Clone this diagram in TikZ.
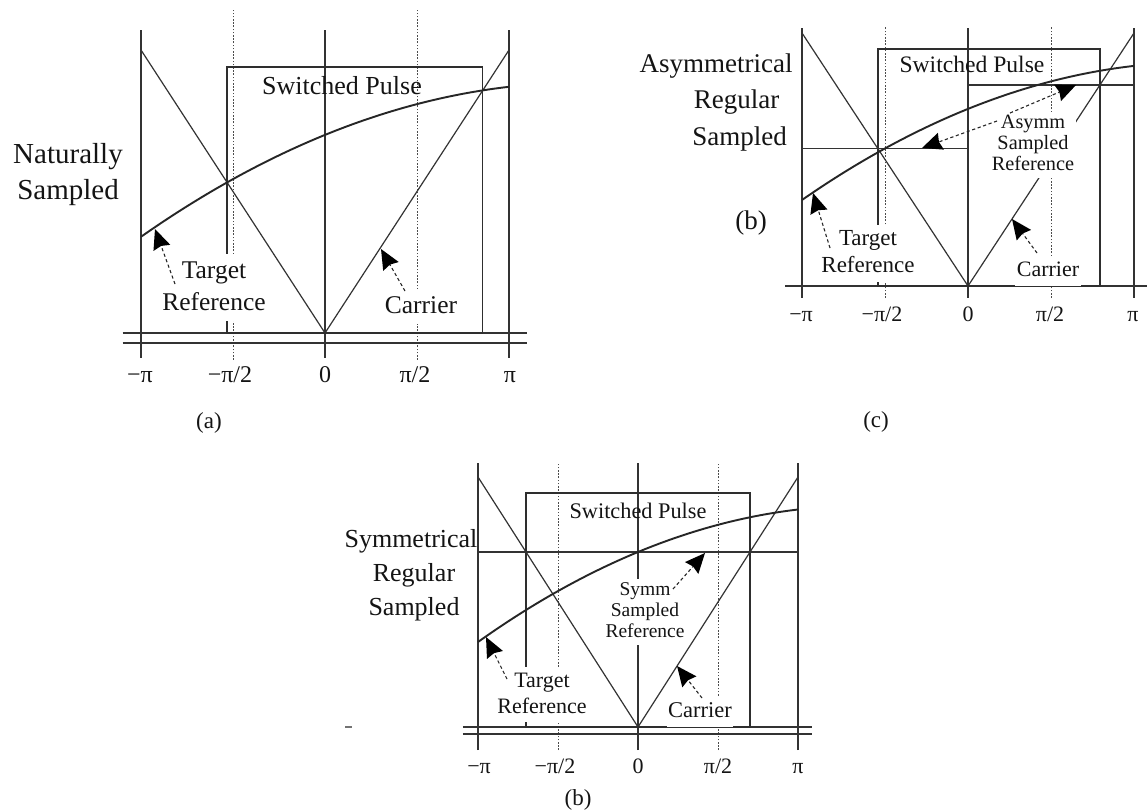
\documentclass[tikz,border=0pt]{standalone}
\usepackage{fontspec}
\setmainfont{Liberation Serif}
\usetikzlibrary{calc}
\newcommand\ml[3]{\fontsize{#1}{#2}\selectfont\begin{tabular}[t]{@{}c@{}}#3\end{tabular}}
\newcommand\refarr[2]{%
  \draw[refshaft] (#1) -- (#2);
  \fill[refhead] (#2) -- ($(#2)!22pt!24:(#1)$) -- ($(#2)!18pt!(#1)$) -- ($(#2)!22pt!-24:(#1)$) -- cycle;}
\tikzset{
  declare function={fref(\t)=0.70+0.265*\t-0.095*\t*\t;},
  axline/.style={line width=1.2pt, draw=black!80},
  dotline/.style={line width=0.8pt, draw=black!70, dash pattern=on 1.6pt off 1.6pt},
  refcurve/.style={line width=1.9pt, draw=black!85},
  pulseline/.style={line width=1.5pt, draw=black!82},
  lbl/.style={inner sep=0pt, text=black!92, anchor=base},
  annot/.style={inner sep=1.5pt, fill=white, text=black!92, anchor=base},
  refshaft/.style={line width=1.1pt, draw=black!85, dash pattern=on 3.2pt off 2.6pt, shorten >=16pt},
  refhead/.style={fill=black},
}
\begin{document}
\begin{tikzpicture}[x=1pt,y=-1pt]
\fill[white] (0,0) rectangle (1147,811);
\useasboundingbox (0,0) rectangle (1147,811);

% ---------------- panel (a): naturally sampled ----------------
\begin{scope}[shift={(325,333)}, x=184pt, y=283pt]
  \draw[dotline] (-0.5,-0.095) -- (-0.5,1.141);
  \draw[dotline] (0.5,-0.095) -- (0.5,1.141);
  \foreach \t in {-1,0,1} \draw[axline] (\t,-0.088) -- (\t,1.071);
  \draw[axline] (-1.10,0) -- (1.10,0);
  \draw[axline] (-1.10,-0.035) -- (1.10,-0.035);
  \draw[axline] (-1,1) -- (0,0) -- (1,1);
  \draw[pulseline] (-0.532,0) rectangle (0.857,0.94);
  \draw[refcurve] plot[domain=-1:1, samples=80] (\x,{fref(\x)});
\end{scope}
\node[lbl] (natA) at (68,163) {\ml{29}{36}{Naturally\\Sampled}};
\node[lbl] (spA) at (342,94) {\ml{26}{31}{Switched Pulse}};
\node[annot] (trA) at (214,278) {\ml{25.5}{32}{Target\\Reference}};
\node[annot] (crA) at (421,313) {\ml{25.5}{32}{Carrier}};
\node[lbl] (ta1) at (140,382) {\ml{24}{28}{−π}};
\node[lbl] (ta2) at (230,382) {\ml{24}{28}{−π/2}};
\node[lbl] (ta3) at (325,382) {\ml{24}{28}{0}};
\node[lbl] (ta4) at (415,382) {\ml{24}{28}{π/2}};
\node[lbl] (ta5) at (510,382) {\ml{24}{28}{π}};
\node[lbl] (capA) at (209,428) {\ml{23}{26}{(a)}};
\coordinate (trAs) at (175,284);
\coordinate (trAe) at (155,229);
\coordinate (crAs) at (405,291);
\coordinate (crAe) at (381,249);
\refarr{trAs}{trAe}
\refarr{crAs}{crAe}

% ---------------- panel (c): asymmetrical regular sampled ----------------
\begin{scope}[shift={(968,286)}, x=166pt, y=253pt]
  \draw[dotline] (-0.5,-0.047) -- (-0.5,1.024);
  \draw[dotline] (0.5,-0.047) -- (0.5,1.024);
  \foreach \t in {-1,0,1} \draw[axline] (\t,-0.047) -- (\t,1.020);
  \draw[axline] (-1.10,0) -- (1.08,0);
  \draw[axline] (-1,1) -- (0,0) -- (1,1);
  \draw[pulseline] ({-fref(-0.5)},0) rectangle (0.795,0.937);
  \draw[axline, line width=1.5pt] (-1,{fref(-0.5)}) -- (0,{fref(-0.5)});
  \draw[axline, line width=1.5pt] (0,0.795) -- (1,0.795);
  \draw[refcurve] plot[domain=-1:1, samples=80] (\x,{fref(\x)});
\end{scope}
\node[lbl] (asA) at (716,72) {\ml{27}{32}{Asymmetrical}};
\node[lbl] (asB) at (736.5,108) {\ml{27}{32}{Regular}};
\node[lbl] (asC) at (739.5,145) {\ml{27}{32}{Sampled}};
\node[lbl] (bC) at (751,229) {\ml{27}{32}{(b)}};
\node[lbl] (spC) at (972,72) {\ml{23.6}{28}{Switched Pulse}};
\node[annot] (asmC) at (1033,128) {\ml{20.3}{21}{Asymm\\Sampled\\Reference}};
\node[annot] (trC) at (868,245) {\ml{23}{27}{Target\\Reference}};
\node[annot] (crC) at (1048,276) {\ml{22}{27}{Carrier}};
\node[lbl] (tc1) at (801,321) {\ml{22}{26}{−π}};
\node[lbl] (tc2) at (882,321) {\ml{22}{26}{−π/2}};
\node[lbl] (tc3) at (968,321) {\ml{22}{26}{0}};
\node[lbl] (tc4) at (1050,321) {\ml{22}{26}{π/2}};
\node[lbl] (tc5) at (1133,321) {\ml{22}{26}{π}};
\node[lbl] (capC) at (876,427) {\ml{23}{26}{(c)}};
\coordinate (trCs) at (830,248);
\coordinate (trCe) at (813,193);
\coordinate (crCs) at (1037,253);
\coordinate (crCe) at (1012,219);
\coordinate (asLs) at (997,121);
\coordinate (asLe) at (922,148);
\coordinate (asRs) at (1010,113);
\coordinate (asRe) at (1076,85);
\refarr{trCs}{trCe}
\refarr{crCs}{crCe}
\refarr{asLs}{asLe}
\refarr{asRs}{asRe}

% ---------------- panel (b): symmetrical regular sampled ----------------
\begin{scope}[shift={(638,727)}, x=160pt, y=250pt]
  \draw[dotline] (-0.5,-0.092) -- (-0.5,1.056);
  \draw[dotline] (0.5,-0.092) -- (0.5,1.056);
  \foreach \t in {-1,0,1} \draw[axline] (\t,-0.092) -- (\t,1.056);
  \draw[axline] (-1.094,0) -- (1.0875,0);
  \draw[axline] (-1.094,-0.028) -- (1.0875,-0.028);
  \draw[axline] (-1,1) -- (0,0) -- (1,1);
  \draw[pulseline] ({-fref(0)},0) rectangle ({fref(0)},0.936);
  \draw[axline] (-1,{fref(0)}) -- (1,{fref(0)});
  \draw[refcurve] plot[domain=-1:1, samples=80] (\x,{fref(\x)});
\end{scope}
\draw[axline, draw=black!55] (345,727) -- (352,727);
\node[lbl] (syA) at (411,547) {\ml{26}{31}{Symmetrical}};
\node[lbl] (syB) at (414,581) {\ml{26}{31}{Regular}};
\node[lbl] (syC) at (414,615) {\ml{26}{31}{Sampled}};
\node[lbl] (spB) at (638,518) {\ml{22.3}{27}{Switched Pulse}};
\node[annot] (smB) at (645,595) {\ml{19.5}{21}{Symm\\Sampled\\Reference}};
\node[annot] (trB) at (542,687) {\ml{22}{26}{Target\\Reference}};
\node[annot] (crB) at (700,717) {\ml{22.5}{27}{Carrier}};
\node[lbl] (tb1) at (479,773) {\ml{22}{26}{−π}};
\node[lbl] (tb2) at (555,773) {\ml{22}{26}{−π/2}};
\node[lbl] (tb3) at (638,773) {\ml{22}{26}{0}};
\node[lbl] (tb4) at (718,773) {\ml{22}{26}{π/2}};
\node[lbl] (tb5) at (798,773) {\ml{22}{26}{π}};
\node[lbl] (capB) at (578,805) {\ml{23}{26}{(b)}};
\coordinate (trBs) at (507,679);
\coordinate (trBe) at (486,637);
\coordinate (crBs) at (702,698);
\coordinate (crBe) at (677,666);
\coordinate (smBs) at (673,589);
\coordinate (smBe) at (705,553);
\refarr{trBs}{trBe}
\refarr{crBs}{crBe}
\refarr{smBs}{smBe}
\end{tikzpicture}
\end{document}
